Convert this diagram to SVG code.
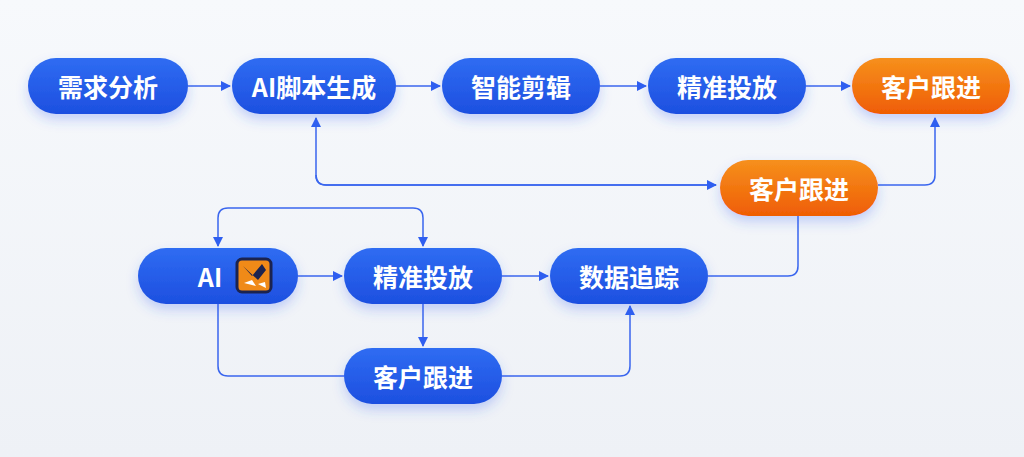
<svg xmlns="http://www.w3.org/2000/svg" width="1024" height="457" viewBox="0 0 1024 457">
<defs>
<linearGradient id="bg" x1="0" y1="0" x2="0" y2="1"><stop offset="0" stop-color="#f7f9fc"/><stop offset="1" stop-color="#eef1f6"/></linearGradient>
<linearGradient id="blue" x1="0" y1="0" x2="0" y2="1"><stop offset="0" stop-color="#2f6cf2"/><stop offset="1" stop-color="#1d4fe0"/></linearGradient>
<linearGradient id="orange" x1="0" y1="0" x2="0" y2="1"><stop offset="0" stop-color="#f6901c"/><stop offset="1" stop-color="#ef5d05"/></linearGradient>
<filter id="sh" x="-30%" y="-50%" width="160%" height="220%"><feDropShadow dx="0" dy="6" stdDeviation="6" flood-color="#2b5cf0" flood-opacity="0.25"/></filter>
<marker id="ar" viewBox="0 0 10 10" refX="9" refY="5" markerWidth="10" markerHeight="10" markerUnits="userSpaceOnUse" orient="auto"><path d="M0,0 L10,5 L0,10 z" fill="#2f5ff0"/></marker>
<style>
.b{fill:url(#blue);filter:url(#sh)}
.o{fill:url(#orange);filter:url(#sh)}
.t{font-family:"Noto Sans CJK SC","Noto Sans",sans-serif;font-size:25px;font-weight:bold;fill:#fff;text-anchor:middle;dominant-baseline:central}
.c path{fill:none;stroke:#3a66ee;stroke-width:1.5}
</style>
</defs>
<rect width="1024" height="457" fill="url(#bg)"/>
<g class="c">
<path d="M188,86 H230" marker-end="url(#ar)"/>
<path d="M396,86 H440" marker-end="url(#ar)"/>
<path d="M600,86 H646" marker-end="url(#ar)"/>
<path d="M806,86 H850" marker-end="url(#ar)"/>
<path d="M716,185 H326 Q316,185 316,175 V118" marker-end="url(#ar)"/>
<path d="M316,175 Q316,185 326,185 H716" marker-end="url(#ar)"/>
<path d="M878,185 H925 Q935,185 935,175 V118" marker-end="url(#ar)"/>
<path d="M708,276 H788 Q798,276 798,266 V216"/>
<path d="M320,208 H228 Q218,208 218,218 V246" marker-end="url(#ar)"/>
<path d="M320,208 H413 Q423,208 423,218 V246" marker-end="url(#ar)"/>
<path d="M298,276 H342" marker-end="url(#ar)"/>
<path d="M502,276 H548" marker-end="url(#ar)"/>
<path d="M423,304 V346" marker-end="url(#ar)"/>
<path d="M218,304 V366 Q218,376 228,376 H344"/>
<path d="M502,376 H620 Q630,376 630,366 V306" marker-end="url(#ar)"/>
</g>
<g id="n1"><rect class="b" x="28" y="58" width="160" height="56" rx="28"/><text class="t" x="108" y="86">需求分析</text></g>
<g id="n2"><rect class="b" x="232" y="58" width="164" height="56" rx="28"/><text class="t" x="314" y="86">AI脚本生成</text></g>
<g id="n3"><rect class="b" x="442" y="58" width="158" height="56" rx="28"/><text class="t" x="521" y="86">智能剪辑</text></g>
<g id="n4"><rect class="b" x="648" y="58" width="158" height="56" rx="28"/><text class="t" x="727" y="86">精准投放</text></g>
<g id="n5"><rect class="o" x="852" y="58" width="158" height="56" rx="28"/><text class="t" x="931" y="86">客户跟进</text></g>
<g id="n6"><rect class="o" x="720" y="160" width="158" height="56" rx="28"/><text class="t" x="799" y="188">客户跟进</text></g>
<g id="n7"><rect class="b" x="138" y="248" width="160" height="56" rx="28"/><text class="t" x="210" y="276">AI</text>
<rect x="237" y="259" width="34" height="33" rx="5" fill="#f08a18" stroke="#1b2350" stroke-width="3"/>
<path d="M243,266 L252,276 L262,264 L266,270 L258,280 Z" fill="#1b2350"/><path d="M244,283 L252,280 L256,286 Z M258,284 L265,282 L266,288 Z" fill="#fff"/></g>
<g id="n8"><rect class="b" x="344" y="248" width="158" height="56" rx="28"/><text class="t" x="423" y="276">精准投放</text></g>
<g id="n9"><rect class="b" x="550" y="248" width="158" height="56" rx="28"/><text class="t" x="629" y="276">数据追踪</text></g>
<g id="n10"><rect class="b" x="344" y="348" width="158" height="56" rx="28"/><text class="t" x="423" y="376">客户跟进</text></g>
</svg>
